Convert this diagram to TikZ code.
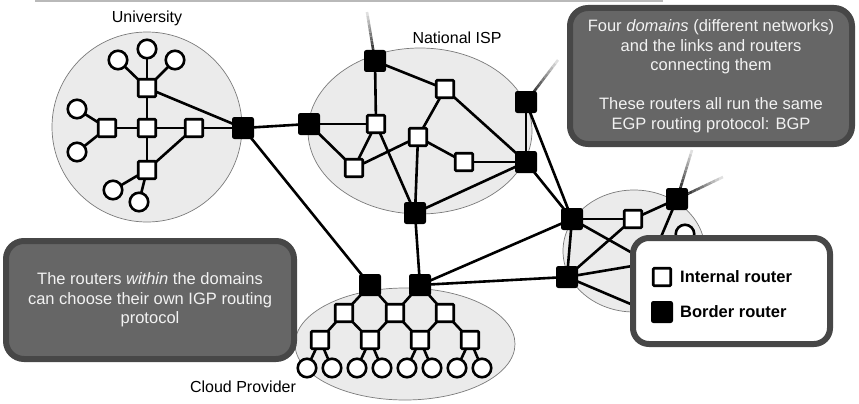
\documentclass[tikz,border=0pt]{standalone}
\usepackage{fontspec}
\setmainfont{Liberation Sans}
\usetikzlibrary{calc,shapes.geometric}
\definecolor{boxfill}{HTML}{666666}
\definecolor{boxborder}{HTML}{474747}
\definecolor{boxtext}{HTML}{F2F2F2}
\definecolor{domfill}{HTML}{EBEBEB}
\definecolor{domline}{HTML}{7A7A7A}
\pgfdeclarelayer{dom}
\pgfdeclarelayer{edges}
\pgfdeclarelayer{top}
\pgfsetlayers{dom,edges,main,top}
\newcommand\fadeedge[2]{%
  \foreach \i [evaluate=\i as \a using \i/12, evaluate=\i as \b using (\i+1)/12, evaluate=\i as \c using 100-\i*8] in {0,...,11}
    {\draw[line width=2.6pt, black!\c] ($(#1)!\a!(#2)$) -- ($(#1)!\b!(#2)$);}}
\begin{document}
\begin{tikzpicture}[x=1pt,y=-1pt,
  edge/.style={line width=2.6pt},
  isq/.style={draw=black, fill=white, line width=2.6pt, minimum size=17.5pt, inner sep=0pt, rounded corners=1pt},
  bsq/.style={draw=black, fill=black, line width=1pt, minimum size=21pt, inner sep=0pt, rounded corners=2pt},
  host/.style={circle, draw=black, fill=white, line width=2.6pt, minimum size=18.5pt, inner sep=0pt},
  domarea/.style={draw=domline, fill=domfill, line width=0.7pt},
  lbl/.style={font=\fontsize{16}{19}\selectfont, text=black, inner sep=0pt},
  callout/.style={draw=boxborder, fill=boxfill, line width=6pt, rounded corners=18pt, text=boxtext, align=center, font=\fontsize{16.5}{19.5}\selectfont, inner sep=0pt},
  legendbox/.style={draw=boxborder, fill=white, line width=6pt, rounded corners=16pt, inner sep=0pt},
  legtext/.style={font=\bfseries\fontsize{16.5}{19.5}\selectfont, anchor=west, inner sep=0pt}
]
\useasboundingbox (0,0) rectangle (859,404);

% top shadow line
\draw[gray!55, line width=1.5pt] (35,1) coordinate (sh1) -- (663,1) coordinate (sh2);

% domains
\begin{pgfonlayer}{dom}
\node[domarea, circle, minimum size=190pt] (uni) at (147,127) {};
\node[domarea, ellipse, minimum width=224pt, minimum height=166pt] (isp) at (420,131) {};
\node[domarea, ellipse, minimum width=142pt, minimum height=122pt] (rdom) at (634,251) {};
\node[domarea, ellipse, minimum width=220pt, minimum height=112pt] (cloud) at (405,344) {};
\end{pgfonlayer}

\node[lbl] (unilbl) at (147,18) {University};
\node[lbl] (isplbl) at (457,38) {National ISP};
\node[lbl] (cloudlbl) at (243,387) {Cloud Provider};

% University
\node[isq] (uT) at (147,88) {};
\node[isq] (uC) at (147,128) {};
\node[isq] (uL) at (107,128) {};
\node[isq] (uR) at (194,128) {};
\node[isq] (uB) at (147,170) {};
\node[bsq] (uBR) at (243,128) {};
\node[host] (uh1) at (118,60) {};
\node[host] (uh2) at (147,49) {};
\node[host] (uh3) at (175,60) {};
\node[host] (uh4) at (77,109) {};
\node[host] (uh5) at (77,152) {};
\node[host] (uh6) at (113,190) {};
\node[host] (uh7) at (139,202) {};

% National ISP
\node[bsq] (iT) at (375,61) {};
\node[bsq] (iL) at (309,124) {};
\node[isq] (iA) at (376,124) {};
\node[isq] (iB) at (354,168) {};
\node[isq] (iC) at (445,89) {};
\node[isq] (iD) at (418,137) {};
\node[isq] (iE) at (464,162) {};
\node[bsq] (iRT) at (526,102) {};
\node[bsq] (iRM) at (526,162) {};
\node[bsq] (iBot) at (415,213) {};
\coordinate (iTf) at (367,12);
\coordinate (iRTf) at (558,60);

% right domain
\node[bsq] (rLT) at (572,219) {};
\node[bsq] (rLB) at (567,277) {};
\node[isq] (rI) at (633,219) {};
\node[bsq] (rTR) at (677,199) {};
\node[host] (rH) at (685,234) {};
\coordinate (rX) at (650,263);
\coordinate (rY) at (680,325);
\coordinate (rTRf1) at (692,150);
\coordinate (rTRf2) at (723,177);

% Cloud
\node[bsq] (cB1) at (370,285) {};
\node[bsq] (cB2) at (420,285) {};
\node[isq] (c1a) at (344,313) {};
\node[isq] (c1b) at (395,313) {};
\node[isq] (c1c) at (445,313) {};
\node[isq] (c2a) at (320,340) {};
\node[isq] (c2b) at (370,340) {};
\node[isq] (c2c) at (420,340) {};
\node[isq] (c2d) at (470,340) {};
\foreach \k/\x in {1/307,2/332,3/357,4/382,5/407,6/432,7/457,8/482}
  {\node[host] (ch\k) at (\x,368) {};}

% edges
\begin{pgfonlayer}{edges}
\foreach \a/\b in {uT/uh1,uT/uh2,uT/uh3,uT/uC,uT/uBR,uC/uL,uC/uR,uC/uB,uL/uh4,uL/uh5,uB/uR,uB/uh6,uB/uh7,uR/uBR,
  uBR/iL,uBR/cB1,
  iT/iA,iT/iC,iL/iA,iL/iB,iA/iB,iA/iBot,iB/iD,iD/iC,iD/iE,iD/iBot,iC/iRM,iE/iRM,iRM/iBot,iRT/iRM,iRT/rLT,iRM/rLT,iBot/cB2,
  cB1/c1a,cB1/c1b,cB2/c1b,cB2/c1c,c1a/c2a,c1a/c2b,c1b/c2b,c1b/c2c,c1c/c2c,c1c/c2d,
  c2a/ch1,c2a/ch2,c2b/ch3,c2b/ch4,c2c/ch5,c2c/ch6,c2d/ch7,c2d/ch8,
  cB2/rLT,cB2/rLB,
  rLT/rI,rLT/rLB,rLT/rX,rLB/rI,rLB/rX,rLB/rY,rI/rTR,rTR/rX}
  {\draw[edge] (\a.center) -- (\b.center);}
\fadeedge{iT}{iTf}
\fadeedge{iRT}{iRTf}
\fadeedge{rTR}{rTRf1}
\fadeedge{rTR}{rTRf2}
\end{pgfonlayer}

% callouts
\begin{pgfonlayer}{top}
\node[callout, minimum width=282pt, minimum height=136pt] (egpbox) at (711,76)
  {Four \textit{domains} (different networks)\\and the links and routers\\connecting them\\[19.5pt]These routers all run the same\\EGP routing protocol: BGP};
\node[callout, minimum width=288pt, minimum height=118pt] (igpbox) at (150,300)
  {The routers \textit{within} the domains\\can choose their own IGP routing\\protocol};
\node[legendbox, minimum width=197pt, minimum height=106pt] (legend) at (731.5,291) {};
\node[isq] (legI) at (662,277) {};
\node[bsq] (legB) at (662,312) {};
\node[legtext] (legIt) at (680,277) {Internal router};
\node[legtext] (legBt) at (680,312) {Border router};
\end{pgfonlayer}
\end{tikzpicture}
\end{document}
